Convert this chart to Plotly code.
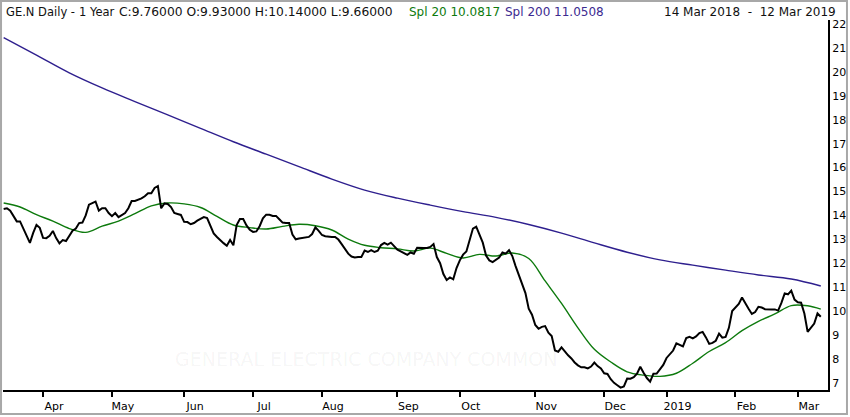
import plotly.graph_objects as go
import pandas as pd


# NYSE sessions, 14 Mar 2018 - 12 Mar 2019
holidays = ['2018-03-30', '2018-05-28', '2018-07-04', '2018-09-03', '2018-11-22',
            '2018-12-05', '2018-12-25', '2019-01-01', '2019-01-21', '2019-02-18']
dates = pd.bdate_range('2018-03-14', '2019-03-12')
dates = dates[~dates.isin(pd.to_datetime(holidays))]

# daily close
close = [
    14.27, 14.30, 14.20, 13.95, 13.75, 13.75, 13.45, 13.15, 12.85, 13.27,
    13.60, 13.48, 13.06, 13.05, 13.15, 13.35, 13.05, 12.83, 12.97, 12.93,
    13.12, 13.36, 13.45, 13.68, 13.70, 14.00, 14.45, 14.52, 14.58, 14.20,
    14.30, 14.30, 14.10, 13.97, 14.10, 13.93, 14.03, 14.10, 14.30, 14.60,
    14.60, 14.65, 14.71, 14.80, 14.93, 14.93, 15.15, 15.23, 14.30, 14.50,
    14.48, 14.35, 14.10, 14.06, 14.02, 13.73, 13.72, 13.63, 13.68, 13.78,
    13.87, 13.93, 13.89, 13.57, 13.25, 13.10, 12.96, 12.84, 12.73, 12.97,
    12.75, 13.60, 13.85, 13.85, 13.58, 13.40, 13.31, 13.33, 13.55, 13.88,
    14.03, 14.03, 13.98, 13.98, 13.84, 13.70, 13.68, 13.68, 13.20, 13.00,
    13.03, 13.06, 13.08, 13.10, 13.22, 13.50, 13.35, 13.18, 13.13, 13.10,
    13.10, 13.10, 12.99, 12.80, 12.60, 12.40, 12.28, 12.24, 12.26, 12.26,
    12.53, 12.47, 12.55, 12.47, 12.52, 12.76, 12.85, 12.78, 12.86, 12.72,
    12.57, 12.50, 12.44, 12.35, 12.45, 12.40, 12.65, 12.66, 12.64, 12.64,
    12.68, 12.80, 12.26, 12.00, 11.55, 11.30, 11.41, 11.33, 11.80, 12.12,
    12.36, 12.49, 12.95, 13.45, 13.53, 13.22, 12.86, 12.32, 12.12, 12.05,
    12.14, 12.24, 12.45, 12.40, 12.55, 12.30, 11.88, 11.50, 11.12, 10.75,
    10.10, 9.85, 9.42, 9.26, 9.34, 9.37, 9.10, 8.96, 8.35, 8.30,
    8.48, 8.30, 8.15, 8.02, 7.85, 7.73, 7.65, 7.65, 7.60, 7.68,
    7.85, 7.70, 7.60, 7.40, 7.37, 7.15, 7.00, 6.90, 6.80, 6.85,
    7.18, 7.17, 7.24, 7.38, 7.67, 7.42, 7.20, 7.05, 7.38, 7.39,
    7.55, 7.75, 8.04, 8.18, 8.35, 8.65, 8.57, 8.52, 8.87, 8.92,
    8.86, 8.94, 9.08, 9.13, 8.90, 8.63, 8.67, 8.76, 9.06, 8.89,
    8.92, 9.30, 10.00, 10.16, 10.30, 10.57, 10.36, 10.10, 9.88, 9.96,
    10.18, 10.15, 10.08, 10.06, 10.07, 10.07, 10.02, 10.34, 10.74, 10.70,
    10.85, 10.48, 10.37, 10.35, 9.90, 9.13, 9.30, 9.48, 9.90, 9.76,
]

# Spl 20, every 5th session plus the last one
spl20 = [
    14.52, 14.35, 14.03, 13.76, 13.45, 13.29, 13.55, 13.76, 14.07, 14.40,
    14.52, 14.48, 14.33, 13.96, 13.60, 13.49, 13.43, 13.54, 13.63, 13.57,
    13.39, 13.01, 12.75, 12.65, 12.60, 12.51, 12.63, 12.41, 12.22, 12.37,
    12.30, 12.43, 12.20, 11.26, 10.32, 9.30, 8.40, 7.87, 7.46, 7.32,
    7.27, 7.40, 7.82, 8.31, 8.68, 9.18, 9.57, 9.88, 10.23, 10.22,
    10.08,
]

# Spl 200, every 10th session plus the last one
spl200 = [
    21.43, 20.70, 19.96, 19.33, 18.76, 18.20, 17.64, 17.08, 16.56, 16.04,
    15.52, 15.06, 14.72, 14.43, 14.16, 13.92, 13.62, 13.26, 12.85, 12.46,
    12.14, 11.92, 11.71, 11.51, 11.34, 11.05,
]

y_ticks = list(range(7, 23))

n = len(dates)
assert n == len(close)
day = list(range(n))
day20 = day[::5] + [n - 1]
day200 = day[::10] + [n - 1]

# first session of each month (skip the partial March 2018)
month_start = pd.Series(day, index=dates).groupby([dates.year, dates.month]).first()
tick_days = month_start.tolist()[1:]
tick_text = [('%d' % d.year) if d.month == 1 else d.strftime('%b') for d in dates[tick_days]]

fig = go.Figure()
fig.add_trace(go.Scatter(x=day200, y=spl200, mode='lines', line_shape='spline',
                         line=dict(color='#2e1f8e', width=1.4), name='Spl 200'))
fig.add_trace(go.Scatter(x=day20, y=spl20, mode='lines', line_shape='spline',
                         line=dict(color='#0d7a0d', width=1.4), name='Spl 20'))
fig.add_trace(go.Scatter(x=day, y=close, mode='lines',
                         line=dict(color='black', width=2), name='GE.N'))

font = 'DejaVu Sans'
hy = 1.0216
# header pieces: text, paper x, anchor, colour, size
header = [
    ('GE.N Daily -', 0.0012, 'left', '#111111', 11.5),
    ('1 Year', 0.0897, 'left', '#111111', 11.5),
    ('C:9.76000 O:9.93000 H:10.14000 L:9.66000', 0.1382, 'left', '#111111', 12.3),
    ('Spl 20 10.0817', 0.4897, 'left', '#0d7a0d', 12),
    ('Spl 200 11.0508', 0.6061, 'left', '#3c2a90', 12),
    ('14 Mar 2018 \u00a0-\u00a0 12 Mar 2019', 1.0121, 'right', '#111111', 12),
]
for text, x, anchor, color, size in header:
    fig.add_annotation(text=text, x=x, y=hy, xref='paper', yref='paper',
                       xanchor=anchor, yanchor='middle', showarrow=False,
                       font=dict(family=font, size=size, color=color))

# faint watermark
fig.add_annotation(text='GENERAL ELECTRIC COMPANY COMMON', x=0.44, y=0.05,
                   xref='paper', yref='paper', showarrow=False,
                   font=dict(family=font, size=19, color='rgba(0,0,0,0.05)'))

# outer grey frame
fig.add_shape(type='rect', xref='paper', yref='paper', x0=-0.0024, x1=1.0230,
              y0=-0.0649, y1=1.0514, line=dict(color='#a8a8a8', width=2))

fig.update_layout(
    width=850, height=417,
    margin=dict(l=3, r=22, t=20, b=27, autoexpand=False),
    paper_bgcolor='white', plot_bgcolor='white',
    showlegend=False,
    font=dict(family=font, size=11, color='black'),
)
fig.update_xaxes(range=[-0.2, 251.2], tickvals=tick_days, ticktext=tick_text,
                 ticks='outside', ticklen=5, tickwidth=2, tickcolor='black',
                 showline=True, linewidth=2, linecolor='black', automargin=False,
                 showgrid=False, zeroline=False, ticklabelshift=11,
                 tickfont=dict(size=11))
fig.update_yaxes(side='right', range=[6.70, 22.17], tickvals=y_ticks,
                 ticks='', showline=True, linewidth=2, linecolor='black',
                 automargin=False, showgrid=False, zeroline=False,
                 tickfont=dict(size=11))

fig.write_html('out.html', config={'displayModeBar': False},
               post_script="document.body.style.margin='0px';")
